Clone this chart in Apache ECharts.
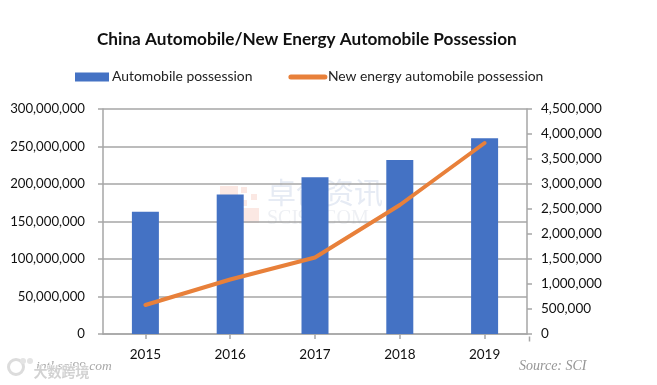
<!DOCTYPE html>
<html><head><meta charset="utf-8">
<style>html,body{margin:0;padding:0;background:#fff}#c{width:657px;height:385px}</style>
<script src="https://cdn.jsdelivr.net/npm/echarts@6/dist/echarts.min.js"></script>
</head><body><div id="c"></div>
<script>
const years = ['2015','2016','2017','2018','2019'];
const automobile = [163000000,186000000,209000000,232000000,261000000];
const newEnergy = [580000,1090000,1530000,2580000,3820000];
const F = 'Lato, "Open Sans", sans-serif';
const grey = '#a6a6a6';
const chart = echarts.init(document.getElementById('c'));
const axisLine = {show:true,lineStyle:{color:grey,width:1.5}};
const tick = {show:true,length:5,lineStyle:{color:grey,width:1.5}};
const fmt = v=>v.toLocaleString('en-US');
const pale = '#fbe8e3';
chart.setOption({
  animation:false,
  title:{text:'China Automobile/New Energy Automobile Possession',left:97,top:31,padding:0,
    textStyle:{fontFamily:F,fontSize:17.2,fontWeight:'bold',color:'#111'}},
  legend:{top:70,left:75,padding:0,itemGap:36,itemWidth:34,itemHeight:9,
    textStyle:{fontFamily:F,fontSize:13.9,color:'#222',padding:[0,0,0,-2]},
    data:[{name:'Automobile possession',icon:'rect'},
          {name:'New energy automobile possession',itemStyle:{opacity:0},lineStyle:{width:5,cap:'round'}}]},
  grid:{left:103,right:130,top:109,bottom:51},
  xAxis:{type:'category',data:years,axisLine,axisTick:{...tick,alignWithLabel:true},
    axisLabel:{fontFamily:F,fontSize:13.5,color:'#111',margin:14}},
  yAxis:[
    {type:'value',min:0,max:300000000,interval:50000000,axisLine,axisTick:tick,
     splitLine:{show:true,lineStyle:{color:grey,width:1.5}},
     axisLabel:{fontFamily:F,fontSize:13.2,color:'#111',margin:18,formatter:fmt}},
    {type:'value',min:0,max:4500000,interval:500000,position:'right',axisLine,axisTick:tick,
     splitLine:{show:false},
     axisLabel:{fontFamily:F,fontSize:13.5,color:'#111',margin:14,formatter:fmt}}
  ],
  graphic:[
    {type:'rect',left:220,top:186,z:-1,shape:{width:18,height:22},style:{fill:pale}},
    {type:'rect',left:220,top:208,z:-1,shape:{width:39,height:15},style:{fill:pale}},
    {type:'rect',left:241,top:187,z:-1,shape:{width:6,height:6},style:{fill:pale}},
    {type:'rect',left:251,top:194,z:-1,shape:{width:6,height:6},style:{fill:pale}},
    {type:'rect',left:241,top:200,z:-1,shape:{width:6,height:6},style:{fill:pale}},
    {type:'text',left:267,top:178,z:-1,style:{text:'卓创资讯',font:'29px "Noto Sans CJK SC"',fill:'#e6ebf4'}},
    {type:'text',left:267,top:209,z:-1,style:{text:'SCI99.COM',font:'20px "Liberation Serif"',fill:'#eef0f4'}},
    {type:'ring',left:7,top:358,shape:{r:9,r0:6},style:{fill:'#dcdcdc'}},
    {type:'circle',left:20,top:358,shape:{r:3},style:{fill:'#e4e4e4'}},
    {type:'circle',left:27,top:358,shape:{r:3},style:{fill:'#e4e4e4'}},
    {type:'text',left:36,top:359,style:{text:'intl.sci99.com',font:'italic 13.5px "Liberation Serif"',fill:'#a8a8a8'}},
    {type:'text',left:33,top:364,style:{text:'大数跨境',font:'bold 14px "Noto Sans CJK SC"',fill:'#d2d2d2',stroke:'#fff',lineWidth:1}},
    {type:'text',left:519,top:359,style:{text:'Source: SCI',font:'italic 14px "Liberation Serif"',fill:'#959595'}},
    {type:'line',left:527,top:334,shape:{x1:0,y1:0,x2:0,y2:5},style:{stroke:grey,lineWidth:1.5}}
  ],
  series:[
    {name:'Automobile possession',type:'bar',barWidth:27,data:automobile,itemStyle:{color:'#4472c4'},z:2},
    {name:'New energy automobile possession',type:'line',yAxisIndex:1,data:newEnergy,symbol:'none',
     lineStyle:{color:'#e8803a',width:4,cap:'round',join:'round'},itemStyle:{color:'#e8803a'},z:3}
  ]
});
</script></body></html>
